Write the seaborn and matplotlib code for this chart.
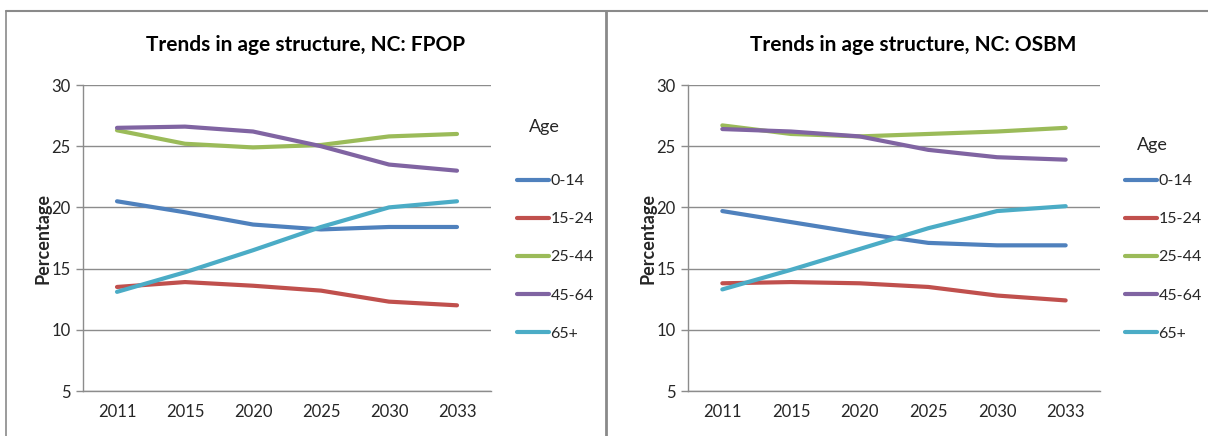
import matplotlib
matplotlib.use("Agg")
import matplotlib.pyplot as plt
from matplotlib.lines import Line2D
import seaborn as sns
import pandas as pd

years = ["2011", "2015", "2020", "2025", "2030", "2033"]
age_groups = ["0-14", "15-24", "25-44", "45-64", "65+"]

fpop_0_14 = [20.5, 19.6, 18.6, 18.2, 18.4, 18.4]
fpop_15_24 = [13.5, 13.9, 13.6, 13.2, 12.3, 12.0]
fpop_25_44 = [26.3, 25.2, 24.9, 25.1, 25.8, 26.0]
fpop_45_64 = [26.5, 26.6, 26.2, 25.0, 23.5, 23.0]
fpop_65 = [13.1, 14.7, 16.5, 18.4, 20.0, 20.5]

osbm_0_14 = [19.7, 18.8, 17.9, 17.1, 16.9, 16.9]
osbm_15_24 = [13.8, 13.9, 13.8, 13.5, 12.8, 12.4]
osbm_25_44 = [26.7, 26.0, 25.8, 26.0, 26.2, 26.5]
osbm_45_64 = [26.4, 26.2, 25.8, 24.7, 24.1, 23.9]
osbm_65 = [13.3, 14.9, 16.6, 18.3, 19.7, 20.1]

titles = ["Trends in age structure, NC: FPOP", "Trends in age structure, NC: OSBM"]
colors = ["#4F81BD", "#C0504D", "#9BBB59", "#8064A2", "#4BACC6"]
y_ticks = [5, 10, 15, 20, 25, 30]


def to_frame(series):
    rows = []
    for grp, vals in zip(age_groups, series):
        for i, (yr, v) in enumerate(zip(years, vals)):
            rows.append({"pos": i, "year": yr, "Age": grp, "value": v})
    return pd.DataFrame(rows)


datasets = [
    to_frame([fpop_0_14, fpop_15_24, fpop_25_44, fpop_45_64, fpop_65]),
    to_frame([osbm_0_14, osbm_15_24, osbm_25_44, osbm_45_64, osbm_65]),
]

sns.set_style("white")
plt.rcParams["font.family"] = ["Lato", "DejaVu Sans"]

fig = plt.figure(figsize=(12.08, 4.36), dpi=100)
W, H = 1208, 436

axes_px = [(83, 491), (688, 1100)]
legend_x = [517, 1125]
age_y = [127, 145]
grid_col = "#8C8C8C"
lw = 3.0

for k, (df, title) in enumerate(zip(datasets, titles)):
    x0, x1 = axes_px[k]
    ax = fig.add_axes([x0 / W, 1 - 391 / H, (x1 - x0) / W, (391 - 85) / H])
    sns.lineplot(data=df, x="pos", y="value", hue="Age", hue_order=age_groups,
                 palette=colors, linewidth=lw, ax=ax, legend=False,
                 solid_capstyle="round")
    ax.set_xlim(-0.5, len(years) - 0.5)
    ax.set_ylim(5, 30)
    ax.set_yticks(y_ticks)
    ax.set_yticklabels([str(t) for t in y_ticks], fontsize=12, color="#262626")
    ax.set_xticks(range(len(years)))
    ax.set_xticklabels(years, fontsize=12, color="#262626")
    ax.set_xticks([i - 0.5 for i in range(len(years) + 1)], minor=True)
    ax.tick_params(axis="x", which="major", length=0, pad=9)
    ax.tick_params(axis="x", which="minor", length=5, color=grid_col, width=1)
    ax.tick_params(axis="y", length=5, color=grid_col, width=1, left=True, pad=4)
    ax.yaxis.grid(True, color=grid_col, linewidth=1)
    ax.set_axisbelow(True)
    for s in ["top", "right"]:
        ax.spines[s].set_visible(False)
    for s in ["left", "bottom"]:
        ax.spines[s].set_color(grid_col)
        ax.spines[s].set_linewidth(1)
    ax.set_xlabel("")
    ax.set_ylabel("Percentage", fontsize=13, fontweight="bold", labelpad=0)

    fig.text(((x0 + x1) / 2 + 19) / W, 1 - 45 / H, title, ha="center", va="center",
             fontsize=15, fontweight="bold", color="black")

    fig.text((legend_x[k] + 12) / W, 1 - age_y[k] / H, "Age", ha="left", va="center",
             fontsize=13, color="#262626")
    handles = [Line2D([0], [0], color=c, lw=lw) for c in colors]
    fig.legend(handles, age_groups, loc="upper left",
               bbox_to_anchor=(legend_x[k] / W, 1 - 174 / H),
               frameon=False, fontsize=11.5, handlelength=2.0, handletextpad=0.1,
               labelspacing=1.5, labelcolor="#262626", borderpad=0,
               borderaxespad=0)

# panel frames
frame_col = "#8A8A8A"
fig.add_artist(Line2D([6 / W, 1], [1 - 11 / H, 1 - 11 / H], color=frame_col, lw=1.5,
                      transform=fig.transFigure))
fig.add_artist(Line2D([6 / W, 6 / W], [0, 1 - 11 / H], color=frame_col, lw=1.2,
                      transform=fig.transFigure))
fig.add_artist(Line2D([606 / W, 606 / W], [0, 1 - 11 / H], color=frame_col, lw=2,
                      transform=fig.transFigure))

fig.savefig("out.png", dpi=100, facecolor="white")
